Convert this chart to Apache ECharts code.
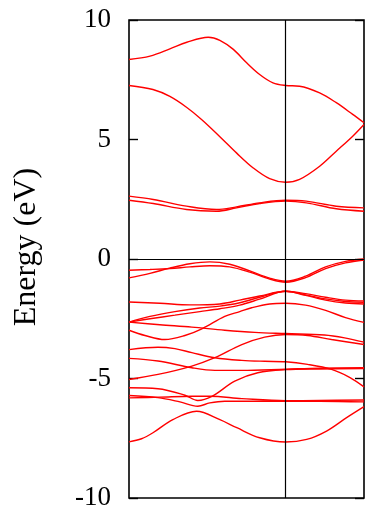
<!DOCTYPE html>
<html>
<head>
<meta charset="utf-8">
<script src="https://cdn.jsdelivr.net/npm/echarts@6/dist/echarts.min.js"></script>
<style>
  html, body { margin: 0; padding: 0; background: #fff; }
  #chart { width: 365px; height: 516px; }
</style>
</head>
<body>
<div id="chart"></div>
<script>
// k-path: Gamma = 0, K = 1, M = 1.5
const kMin = 0
const kK = 1
const kMax = 1.5
const yTicks = [-10, -5, 0, 5, 10]

// conduction bands  [k, E(eV)]
const bandC4 = [[0, 8.35], [0.134, 8.49], [0.261, 8.79], [0.369, 9.07], [0.506, 9.28], [0.580, 9.15], [0.666, 8.77], [0.751, 8.21], [0.834, 7.72], [0.919, 7.37], [1, 7.26], [1.089, 7.23], [1.217, 6.95], [1.323, 6.54], [1.428, 6.05], [1.5, 5.70]]
const bandC3 = [[0, 7.26], [0.153, 7.09], [0.261, 6.8], [0.369, 6.34], [0.463, 5.84], [0.580, 5.12], [0.686, 4.44], [0.791, 3.82], [0.898, 3.36], [1, 3.21], [1.089, 3.33], [1.217, 3.88], [1.323, 4.51], [1.428, 5.14], [1.5, 5.63]]
const bandC2 = [[0, 2.63], [0.155, 2.49], [0.367, 2.21], [0.558, 2.07], [0.686, 2.18], [0.834, 2.35], [1, 2.46], [1.132, 2.42], [1.323, 2.21], [1.5, 2.14]]
const bandC1 = [[0, 2.46], [0.155, 2.32], [0.367, 2.07], [0.558, 2.0], [0.686, 2.14], [0.834, 2.32], [1, 2.42], [1.132, 2.35], [1.323, 2.1], [1.5, 2.0]]

// valence bands
const bandV1 = [[0, -0.79], [0.134, -0.6], [0.261, -0.38], [0.389, -0.2], [0.516, -0.12], [0.643, -0.22], [0.771, -0.5], [0.898, -0.8], [1, -0.93], [1.127, -0.72], [1.255, -0.33], [1.382, -0.1], [1.5, 0.0]]
const bandV2 = [[0, -0.47], [0.134, -0.44], [0.261, -0.4], [0.389, -0.33], [0.516, -0.28], [0.643, -0.33], [0.771, -0.55], [0.898, -0.84], [1, -0.97], [1.127, -0.78], [1.255, -0.4], [1.382, -0.16], [1.5, -0.04]]
const bandV3 = [[0, -1.8], [0.197, -1.85], [0.389, -1.92], [0.580, -1.88], [0.707, -1.72], [0.834, -1.55], [1, -1.35], [1.127, -1.45], [1.255, -1.6], [1.382, -1.72], [1.5, -1.75]]
const bandV4 = [[0, -2.64], [0.134, -2.4], [0.293, -2.2], [0.452, -2.05], [0.580, -1.97], [0.707, -1.83], [0.834, -1.6], [1, -1.35], [1.127, -1.5], [1.255, -1.67], [1.382, -1.78], [1.5, -1.81]]
const bandV5 = [[0, -2.64], [0.134, -2.5], [0.293, -2.35], [0.452, -2.2], [0.580, -2.08], [0.707, -1.93], [0.834, -1.68], [1, -1.35], [1.127, -1.52], [1.255, -1.72], [1.382, -1.84], [1.5, -1.88]]
const bandV6 = [[0, -2.98], [0.102, -3.2], [0.229, -3.37], [0.357, -3.2], [0.465, -2.92], [0.611, -2.4], [0.707, -2.2], [0.783, -2.04], [0.898, -1.88], [1, -1.85], [1.127, -1.93], [1.255, -2.15], [1.382, -2.45], [1.5, -2.65]]
const bandV7 = [[0, -2.64], [0.197, -2.75], [0.401, -2.85], [0.611, -2.98], [0.803, -3.07], [1, -3.12], [1.248, -3.18], [1.376, -3.3], [1.5, -3.48]]
const bandV8 = [[0, -5.04], [0.185, -4.83], [0.401, -4.48], [0.548, -4.13], [0.720, -3.58], [0.866, -3.27], [1, -3.16], [1.140, -3.2], [1.293, -3.37], [1.5, -3.58]]
const bandV9 = [[0, -3.79], [0.185, -3.69], [0.293, -3.75], [0.401, -3.92], [0.548, -4.13], [0.720, -4.24], [0.866, -4.28], [1, -4.30], [1.140, -4.41], [1.293, -4.62], [1.408, -4.95], [1.5, -5.35]]
const bandV10 = [[0, -4.16], [0.185, -4.27], [0.401, -4.55], [0.548, -4.66], [0.720, -4.66], [1, -4.61], [1.217, -4.57], [1.5, -4.55]]
const bandV11 = [[0, -5.39], [0.185, -5.43], [0.357, -5.7], [0.439, -5.92], [0.529, -5.75], [0.675, -5.11], [0.822, -4.76], [1, -4.63], [1.217, -4.6], [1.5, -4.58]]
const bandV12 = [[0, -5.71], [0.185, -5.8], [0.325, -5.98], [0.439, -6.16], [0.516, -6.02], [0.611, -5.95], [0.822, -5.95], [1, -5.95], [1.217, -5.95], [1.5, -5.98]]
const bandV13 = [[0, -5.81], [0.197, -5.78], [0.401, -5.74], [0.516, -5.74], [0.720, -5.84], [1, -5.93], [1.217, -5.92], [1.5, -5.9]]
const bandV14 = [[0, -7.65], [0.08, -7.52], [0.153, -7.27], [0.280, -6.72], [0.431, -6.37], [0.580, -6.72], [0.688, -7.06], [0.834, -7.48], [1, -7.66], [1.134, -7.55], [1.261, -7.2], [1.389, -6.64], [1.5, -6.18]]

const bands = [bandC4, bandC3, bandC2, bandC1, bandV1, bandV2, bandV3, bandV4, bandV5, bandV6, bandV7,
  bandV8, bandV9, bandV10, bandV11, bandV12, bandV13, bandV14]

const serif = 'Liberation Serif'
const chart = echarts.init(document.getElementById('chart'), null, { renderer: 'canvas' })

const bandSeries = bands.map(b => ({
  type: 'line',
  data: b,
  smooth: 0.35,
  symbol: 'none',
  silent: true,
  lineStyle: { color: '#ff0000', width: 1.4 },
}))

// zero line and the K-point line
bandSeries.push({
  type: 'line',
  data: [],
  markLine: {
    silent: true,
    symbol: 'none',
    label: { show: false },
    lineStyle: { color: '#000', width: 1.2, type: 'solid' },
    data: [{ yAxis: 0 }, { xAxis: kK }],
  },
})

const option = {
  animation: false,
  grid: {
    left: 129, right: 1, top: 20, bottom: 18,
    show: true, borderColor: '#000', borderWidth: 1.6, backgroundColor: 'transparent',
  },
  xAxis: {
    type: 'value', min: kMin, max: kMax,
    axisLine: { show: false }, axisTick: { show: false },
    axisLabel: { show: false }, splitLine: { show: false },
  },
  yAxis: [
    {
      type: 'value', min: yTicks[0], max: yTicks[yTicks.length - 1], interval: 5,
      axisLine: { show: false },
      axisTick: { show: true, inside: true, length: 9, lineStyle: { color: '#000', width: 1.4 } },
      axisLabel: { color: '#000', fontFamily: serif, fontSize: 27, margin: 18 },
      splitLine: { show: false },
    },
    {
      type: 'value', position: 'right', min: yTicks[0], max: yTicks[yTicks.length - 1], interval: 5,
      axisLine: { show: false },
      axisTick: { show: true, inside: true, length: 9, lineStyle: { color: '#000', width: 1.4 } },
      axisLabel: { show: false },
      splitLine: { show: false },
    },
  ],
  graphic: [{
    type: 'text',
    x: 27, y: 247, rotation: Math.PI / 2,
    style: {
      text: 'Energy (eV)', fill: '#000', font: '32px "Liberation Serif"',
      align: 'center', verticalAlign: 'middle',
    },
  }],
  series: bandSeries,
}
chart.setOption(option)
</script>
</body>
</html>
